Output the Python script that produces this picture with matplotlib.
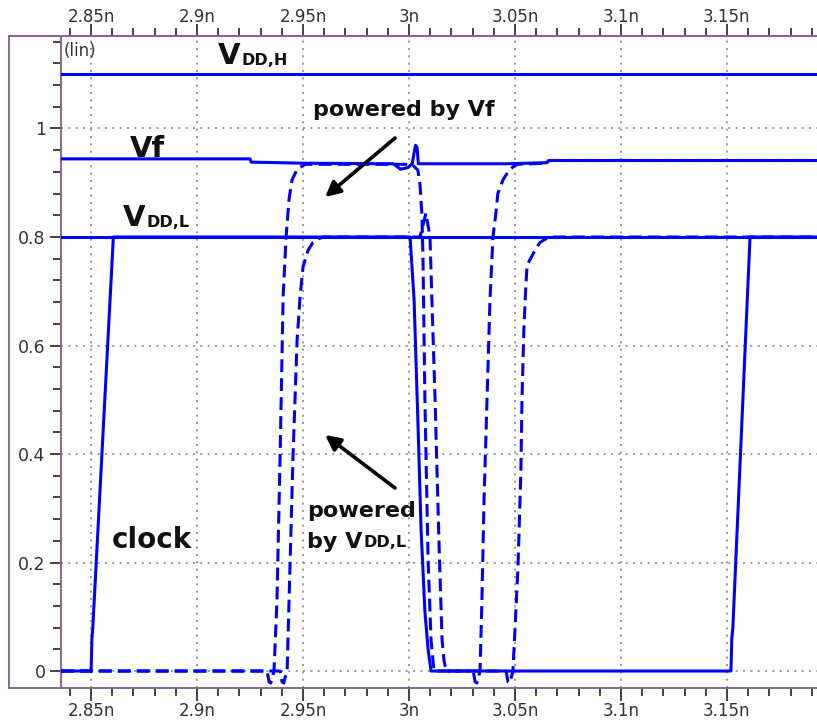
import matplotlib
matplotlib.use("Agg")
import matplotlib.pyplot as plt
from matplotlib.lines import Line2D
from matplotlib.ticker import MultipleLocator, FixedLocator

# ---- waveform data (time in ns, voltage in V) ----
vddh_t = [2.8358, 3.1925]
vddh_v = [1.10, 1.10]

vddl_t = [2.8358, 3.1925]
vddl_v = [0.80, 0.80]

vf_t = [2.8358, 2.925, 2.9255, 2.951, 2.9925, 2.996, 2.9995, 3.0015, 3.0024,
        3.0031, 3.0038, 3.0044, 3.046, 3.065, 3.066, 3.1925]
vf_v = [0.944, 0.944, 0.938, 0.936, 0.935, 0.925, 0.928, 0.935, 0.955,
        0.969, 0.965, 0.935, 0.935, 0.937, 0.941, 0.941]

clock_t = [2.8358, 2.8500, 2.8504, 2.8508, 2.8605, 3.0005, 3.0024, 3.0042,
           3.0057, 3.0075, 3.0090, 3.0104, 3.1519, 3.1523, 3.1528, 3.1609, 3.1925]
clock_v = [0.0, 0.0, 0.06, 0.08, 0.80, 0.80, 0.684, 0.46,
           0.26, 0.11, 0.04, 0.0, 0.0, 0.06, 0.08, 0.80, 0.80]

out_f_t = [2.8358, 2.9330, 2.9340, 2.9348, 2.9356, 2.9363, 2.9377, 2.9392,
           2.9406, 2.9420, 2.9434, 2.9448, 2.9472, 2.9510, 3.0014, 3.0042,
           3.0052, 3.0061, 3.0066, 3.0075, 3.0090, 3.0104, 3.0118, 3.0303,
           3.0312, 3.0321, 3.0329, 3.0335, 3.0344, 3.0354, 3.0368, 3.0382,
           3.0396, 3.0410, 3.0419, 3.0443, 3.0467, 3.0490, 3.0510, 3.0650,
           3.0660, 3.1925]
out_f_v = [0.0, 0.0, -0.02, -0.022, -0.01, 0.0, 0.13, 0.40,
           0.69, 0.80, 0.87, 0.905, 0.925, 0.934, 0.934, 0.923,
           0.896, 0.84, 0.758, 0.50, 0.205, 0.057, 0.0, 0.0,
           -0.02, -0.022, -0.01, 0.0, 0.13, 0.315, 0.50, 0.684,
           0.80, 0.844, 0.88, 0.905, 0.920, 0.929, 0.934, 0.936,
           0.941, 0.941]

out_l_t = [2.8358, 2.9392, 2.9401, 2.9409, 2.9417, 2.9425, 2.9434, 2.9453,
           2.9472, 2.9486, 2.9500, 2.9524, 2.9547, 2.9580, 2.9600, 3.0052,
           3.0080, 3.0099, 3.0108, 3.0123, 3.0132, 3.0142, 3.0156, 3.0165,
           3.0175, 3.0458, 3.0467, 3.0476, 3.0484, 3.0490, 3.0500, 3.0514,
           3.0528, 3.0533, 3.0542, 3.0550, 3.0557, 3.0595, 3.0618, 3.0651,
           3.0670, 3.1925]
out_l_v = [0.0, 0.0, -0.02, -0.022, -0.01, 0.0, 0.13, 0.40,
           0.61, 0.69, 0.745, 0.776, 0.790, 0.798, 0.80, 0.80,
           0.844, 0.80, 0.684, 0.50, 0.37, 0.23, 0.057, 0.02,
           0.0, 0.0, -0.02, -0.022, -0.01, 0.0, 0.076, 0.19,
           0.37, 0.50, 0.63, 0.70, 0.748, 0.776, 0.790, 0.798,
           0.80, 0.80]

# ---- axis ticks ----
x_ticks = [2.85, 2.90, 2.95, 3.00, 3.05, 3.10, 3.15]
x_labels = ["2.85n", "2.9n", "2.95n", "3n", "3.05n", "3.1n", "3.15n"]
y_ticks = [0.0, 0.2, 0.4, 0.6, 0.8, 1.0]
y_labels = ["0", "0.2", "0.4", "0.6", "0.8", "1"]
x_range = (2.8358, 3.1925)
y_range = (-0.0313, 1.1705)

BLUE = "#0000ff"
FRAME = "#86649a"
INK = "#111111"
TICK = "#222222"
LABEL = "#333333"

W, H = 817, 728
fig = plt.figure(figsize=(W / 100, H / 100), dpi=100)
fig.patch.set_facecolor("white")
ax = fig.add_axes([61 / W, (H - 688) / H, (W - 61) / W, (688 - 36) / H])

ax.set_xlim(*x_range)
ax.set_ylim(*y_range)

# ticks and grid
ax.xaxis.set_major_locator(FixedLocator(x_ticks))
ax.yaxis.set_major_locator(FixedLocator(y_ticks))
ax.xaxis.set_minor_locator(MultipleLocator(0.01))
ax.yaxis.set_minor_locator(MultipleLocator(0.04))
ax.set_xticklabels(x_labels)
ax.set_yticklabels(y_labels)
ax.grid(True, which="major", color="#888888", linestyle=(0, (1.2, 3.2)), linewidth=1.2)
ax.set_axisbelow(True)

ax.tick_params(axis="x", which="both", top=False, labeltop=False, bottom=True,
               labelbottom=True, direction="out", colors=TICK,
               labelcolor=LABEL, labelsize=12, pad=1)
ax.tick_params(axis="x", which="major", length=9, width=1.2)
ax.tick_params(axis="x", which="minor", length=6, width=1.2)
ax.tick_params(axis="y", which="both", left=True, right=False, direction="out",
               colors=TICK, labelcolor=LABEL, labelsize=12.5, pad=3)
ax.tick_params(axis="y", which="major", length=8, width=1.2)
ax.tick_params(axis="y", which="minor", length=6, width=1.2)

for side in ("left", "top", "bottom"):
    ax.spines[side].set_color(FRAME)
    ax.spines[side].set_linewidth(1.4)
ax.spines["right"].set_visible(False)

# time scale repeated along the top edge
top = ax.secondary_xaxis("top")
top.set_xticks(x_ticks, x_labels)
top.xaxis.set_minor_locator(MultipleLocator(0.01))
top.tick_params(axis="x", which="both", direction="out", colors=TICK,
                labelcolor=LABEL, labelsize=12, pad=-2)
top.tick_params(axis="x", which="major", length=9, width=1.2)
top.tick_params(axis="x", which="minor", length=6, width=1.2)
top.spines["top"].set_color(FRAME)
top.spines["top"].set_linewidth(1.4)

# outer frame to the left of the plot area
y_top = (H - 36) / H
y_bot = (H - 688) / H
x_out = 9 / W
x_in = 61 / W
for xs, ys in (([x_out, x_in], [y_top, y_top]),
               ([x_out, x_in], [y_bot, y_bot]),
               ([x_out, x_out], [y_bot, y_top])):
    fig.add_artist(Line2D(xs, ys, transform=fig.transFigure, color=FRAME, lw=1.4))

# waveforms
lw = 2.2
ax.plot(vddh_t, vddh_v, color=BLUE, lw=lw, zorder=3)
ax.plot(vf_t, vf_v, color=BLUE, lw=lw, zorder=3)
ax.plot(vddl_t, vddl_v, color=BLUE, lw=lw, zorder=3)
ax.plot(out_f_t, out_f_v, color=BLUE, lw=lw, linestyle=(0, (4.2, 2.0)), zorder=4)
ax.plot(out_l_t, out_l_v, color=BLUE, lw=lw, linestyle=(0, (4.2, 2.0)), zorder=4)
ax.plot(clock_t, clock_v, color=BLUE, lw=lw, zorder=5)

ax.text(0.004, 0.991, "(lin)", transform=ax.transAxes, fontsize=12,
        color=LABEL, ha="left", va="top")


def subscript_label(t, v, main, sub, size, subsize):
    base = ax.text(t, v, main, fontsize=size, fontweight="bold", color=INK,
                   ha="left", va="baseline", zorder=6)
    ax.annotate(sub, xy=(1, 0), xycoords=base, xytext=(0.5, 1.3),
                textcoords="offset points", fontsize=subsize, fontweight="bold",
                color=INK, ha="left", va="bottom", zorder=6)


subscript_label(2.9099, 1.119, "V", "DD,H", 21, 11.5)
ax.text(2.8684, 0.9475, "Vf", fontsize=21, fontweight="bold", color=INK,
        ha="left", va="baseline", zorder=6)
subscript_label(2.8651, 0.820, "V", "DD,L", 21, 11.5)

ax.text(2.9547, 1.0227, "powered by Vf", fontsize=16, fontweight="bold",
        color=INK, ha="left", va="baseline", zorder=6)
ax.text(2.9519, 0.284, "powered", fontsize=16, fontweight="bold",
        color=INK, ha="left", va="baseline", zorder=6)
subscript_label(2.9519, 0.2267, "by V", "DD,L", 16, 11.5)
ax.text(2.8599, 0.2267, "clock", fontsize=20, fontweight="bold",
        color=INK, ha="left", va="baseline", zorder=6)

arrow_style = dict(arrowstyle="-|>,head_length=0.9,head_width=0.45",
                   color="black", lw=2.6, shrinkA=0, shrinkB=0)
ax.annotate("", xy=(2.9604, 0.8737), xytext=(2.9934, 0.9825),
            arrowprops=arrow_style, zorder=7)
ax.annotate("", xy=(2.9604, 0.435), xytext=(2.9934, 0.3373),
            arrowprops=arrow_style, zorder=7)

fig.savefig("out.png", dpi=100, facecolor="white")
